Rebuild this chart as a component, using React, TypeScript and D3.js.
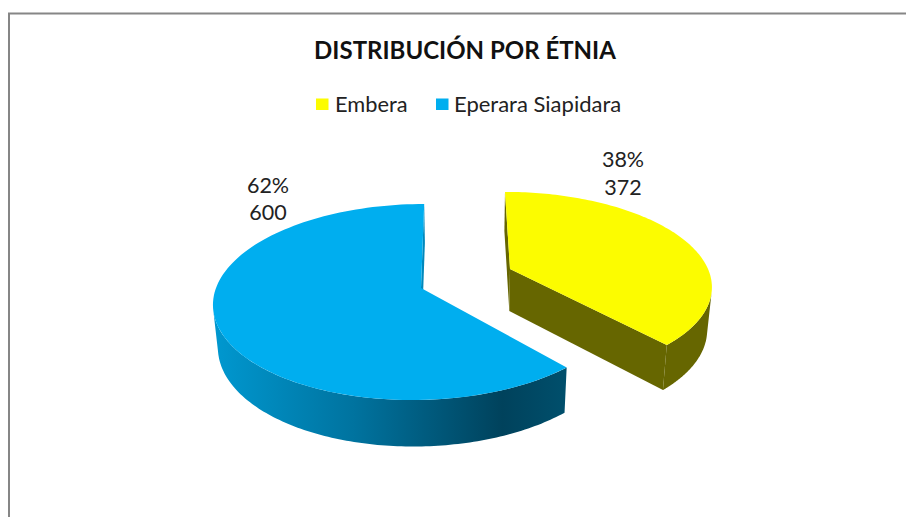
import React from "react";
import * as d3 from "d3";

const categories = ["Embera", "Eperara Siapidara"];
const values = [372, 600];
const percentLabels = ["38%", "62%"];
const colors = ["#FCFC00", "#00AEEF"];

const font = "Lato, Carlito, 'Open Sans', sans-serif";

type Geo = { xc: number; xo: number; cy: number; rx: number; ry: number; p: number; apexDx: number };
const geoYellow: Geo = { xc: 475, xo: 35, cy: 269, rx: 198, ry: 90, p: 0.167, apexDx: 0 };
const geoBlue: Geo = { xc: 460.4, xo: -41.4, cy: 288, rx: 203, ry: 96, p: 0.143, apexDx: 2 };

const project = (g: Geo, a: number, r = 1): [number, number] => {
  const u = Math.sin(a) * r, v = Math.cos(a) * r;
  const f = 1 / (1 + g.p * v);
  return [g.xc + (g.xo + g.rx * u) * f + (r === 0 ? g.apexDx : 0), g.cy - g.ry * v * f];
};
const lower = (g: Geo, pt: [number, number]): [number, number] => [
  pt[0] + (g.xc - pt[0]) * 0.02,
  pt[1] + 42 + 0.04 * (pt[1] - g.cy),
];

const pieGen = d3.pie<number>().sort(null).startAngle(0).endAngle(2 * Math.PI);
const arcs = pieGen(values);
const line = d3.line();

const rim = (g: Geo, a0: number, a1: number) =>
  d3.range(0, 121).map((i) => project(g, d3.interpolateNumber(a0, a1)(i / 120)));

const Slice = ({ g, a0, a1, fill, wallFill, sliverFill, frontTo }: any) => {
  const apex = project(g, 0, 0);
  const top = rim(g, a0, a1);
  const wallPts = rim(g, frontTo[0], frontTo[1]);
  const wall = [...wallPts, ...wallPts.map((p) => lower(g, p)).reverse()] as [number, number][];
  const startPt = project(g, a0 === 0 ? a0 : a1);
  const sliver = [apex, startPt, lower(g, startPt), lower(g, apex)] as [number, number][];
  const endPt = project(g, a0 === 0 ? a1 : a0);
  const radial = [apex, endPt, lower(g, endPt), lower(g, apex)] as [number, number][];
  return (
    <g>
      <path d={line(sliver)! + "Z"} fill={sliverFill} />
      {a0 === 0 && <path d={line(radial)! + "Z"} fill={wallFill} />}
      <path d={line(wall)! + "Z"} fill={wallFill} />
      <path d={line([apex, ...top])! + "Z"} fill={fill} />
    </g>
  );
};

export default function App() {
  const yA = arcs[0], bA = arcs[1];
  return (
    <svg width={906} height={517} style={{ position: "fixed", left: 0, top: 0, background: "#fff" }} fontFamily={font}>
      <defs>
        <linearGradient id="blueWall" gradientUnits="userSpaceOnUse" x1={213} x2={566} y1={0} y2={0}>
          <stop offset="0" stopColor="#0098D0" />
          <stop offset="0.4" stopColor="#00739F" />
          <stop offset="0.82" stopColor="#00425C" />
          <stop offset="1" stopColor="#004F6C" />
        </linearGradient>
      </defs>
      <path d="M9,517V13.5H906" fill="none" stroke="#868686" strokeWidth={2} />
      <text x={465} y={59} textAnchor="middle" fontSize={24} fontWeight={700} fill="#111">DISTRIBUCIÓN POR ÉTNIA</text>
      <rect x={316} y={98.5} width={12.5} height={11.5} fill={colors[0]} />
      <text x={335} y={112} fontSize={21.8} fill="#222">{categories[0]}</text>
      <rect x={436} y={98.5} width={12.5} height={11.5} fill={colors[1]} />
      <text x={454} y={112} fontSize={22} fill="#222">{categories[1]}</text>

      <Slice g={geoBlue} a0={bA.startAngle} a1={bA.endAngle} fill={colors[1]} wallFill="url(#blueWall)" sliverFill="#0088BC"
        frontTo={[bA.startAngle, (258 * Math.PI) / 180]} />
      <Slice g={geoYellow} a0={yA.startAngle} a1={yA.endAngle} fill={colors[0]} wallFill="#666600" sliverFill="#666600"
        frontTo={[(104 * Math.PI) / 180, yA.endAngle]} />

      <text x={623} y={167} textAnchor="middle" fontSize={21.5} fill="#222">{percentLabels[0]}</text>
      <text x={623} y={195} textAnchor="middle" fontSize={21.5} fill="#222">{values[0]}</text>
      <text x={268} y={193} textAnchor="middle" fontSize={21.5} fill="#222">{percentLabels[1]}</text>
      <text x={268} y={220} textAnchor="middle" fontSize={21.5} fill="#222">{values[1]}</text>
    </svg>
  );
}
